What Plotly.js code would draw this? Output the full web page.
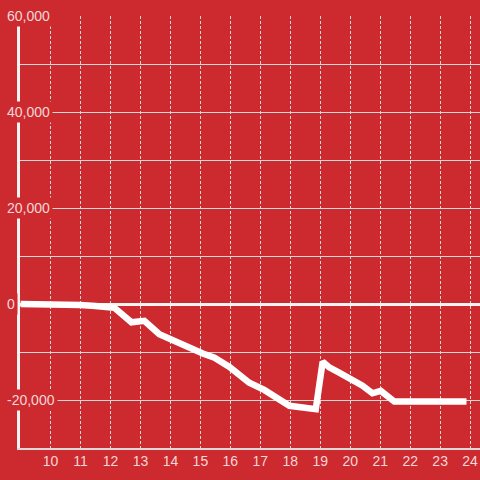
<!DOCTYPE html>
<html>
<head>
<meta charset="utf-8">
<script src="https://cdn.plot.ly/plotly-3.0.1.min.js"></script>
<style>
  html, body { margin: 0; padding: 0; background: #cc2a2f; }
  #chart { width: 480px; height: 480px; }
</style>
</head>
<body>
<div id="chart"></div>
<script>
// hour of day
const hours = [9.0, 10.5, 11.0, 11.5, 12.0, 12.13, 12.7, 12.97, 13.13, 13.63, 13.97, 14.33, 14.63, 15.08, 15.47, 15.63, 15.97, 16.63, 16.97, 17.13, 17.97, 18.3, 18.85, 19.08, 19.3, 19.63, 19.97, 20.41, 20.74, 21.02, 21.47, 23.88];
// cumulative value
const values = [0, 0, -200, -400, -650, -800, -3800, -3500, -3500, -6300, -7300, -8100, -9000, -10300, -11200, -11700, -13100, -16400, -17500, -17900, -21200, -21500, -21900, -12000, -13200, -14300, -15500, -17000, -18600, -18100, -20300, -20300];
// y tick labels
const yTickVals = [60000, 40000, 20000, 0, -20000];
const yTickText = ['60,000', '40,000', '20,000', '0', '-20,000'];
// x tick labels
const xTickVals = [10, 11, 12, 13, 14, 15, 16, 17, 18, 19, 20, 21, 22, 23, 24];

const bg = '#cc2a2f';
const labelColor = '#f6d6d7';

const annotations = yTickVals.map((v, i) => ({
  xref: 'paper', yref: 'y',
  x: -16 / 460, y: v,
  xanchor: 'left', yanchor: 'middle',
  text: yTickText[i],
  showarrow: false,
  bgcolor: bg,
  borderpad: 2,
  font: { family: 'Liberation Sans, Arial, sans-serif', size: 14, color: labelColor }
}));

const trace = {
  x: hours,
  y: values,
  type: 'scatter',
  mode: 'lines',
  line: { color: '#ffffff', width: 6.5 },
  hoverinfo: 'skip'
};

const layout = {
  width: 480, height: 480,
  margin: { l: 20, r: 0, t: 16, b: 32 },
  paper_bgcolor: bg,
  plot_bgcolor: bg,
  showlegend: false,
  xaxis: {
    range: [8.98, 24.33],
    tickvals: xTickVals,
    ticktext: xTickVals.map(String),
    showgrid: true,
    gridcolor: '#d9d9d9',
    griddash: '3px,2px',
    gridwidth: 1,
    showline: true,
    linecolor: '#d9d9d9',
    linewidth: 1.5,
    zeroline: false,
    ticks: '',
    tickfont: { family: 'Liberation Sans, Arial, sans-serif', size: 14, color: labelColor }
  },
  yaxis: {
    range: [-30000, 60000],
    dtick: 10000,
    tick0: 0,
    showticklabels: false,
    showgrid: true,
    gridcolor: '#d9d9d9',
    gridwidth: 1,
    showline: true,
    linecolor: '#f2f2f2',
    linewidth: 3,
    zeroline: true,
    zerolinecolor: '#f4f4f4',
    zerolinewidth: 3,
    ticks: ''
  },
  annotations: annotations
};

Plotly.newPlot('chart', [trace], layout, { displayModeBar: false, staticPlot: true });
</script>
</body>
</html>
